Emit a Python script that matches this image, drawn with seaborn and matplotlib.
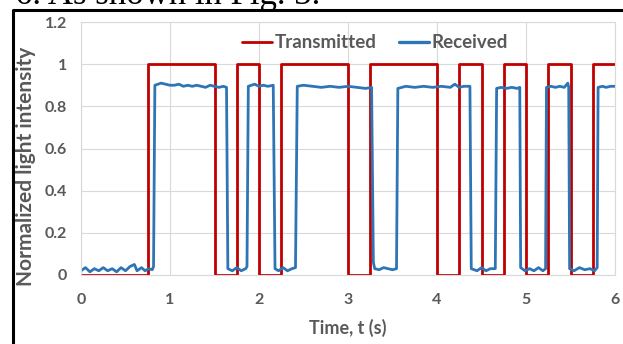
import numpy as np
import pandas as pd
import seaborn as sns
import matplotlib.pyplot as plt
from matplotlib.lines import Line2D

# transmitted signal: switching times (s) and the level after each switch
tx_edges = [0.0, 0.75, 1.5, 1.75, 2.0, 2.25, 3.0, 3.25, 4.0, 4.25, 4.5, 4.75, 5.0, 5.25, 5.5, 5.75, 6.0]
tx_levels = [0, 1, 0, 1, 0, 1, 0, 1, 0, 1, 0, 1, 0, 1, 0, 1]

# received signal
rx_time = [0.0, 0.05, 0.1, 0.15, 0.2, 0.25, 0.3, 0.35, 0.4, 0.45, 0.5, 0.55, 0.6, 0.63, 0.68, 0.72, 0.76, 0.8, 0.815,
           0.83, 0.9, 0.95, 1.0, 1.05, 1.1, 1.15, 1.2, 1.25, 1.3, 1.35, 1.4, 1.45, 1.5, 1.55, 1.6, 1.635,
           1.65, 1.7, 1.75, 1.8, 1.85, 1.865,
           1.88, 1.95, 2.0, 2.05, 2.1, 2.16,
           2.18, 2.22, 2.27, 2.32, 2.37, 2.41,
           2.43, 2.5, 2.6, 2.7, 2.8, 2.9, 3.0, 3.1, 3.2, 3.265,
           3.285, 3.3, 3.35, 3.4, 3.45, 3.5, 3.545,
           3.56, 3.65, 3.75, 3.85, 3.95, 4.05, 4.15, 4.2, 4.25, 4.3, 4.37,
           4.385, 4.45, 4.5, 4.55, 4.6, 4.655,
           4.67, 4.72, 4.78, 4.84, 4.9, 4.93,
           4.94, 4.99, 5.04, 5.09, 5.14, 5.19, 5.22,
           5.23, 5.28, 5.33, 5.38, 5.43, 5.47, 5.48,
           5.49, 5.54, 5.6, 5.66, 5.72, 5.77, 5.8,
           5.81, 5.86, 5.9, 5.95, 6.0]
rx_value = [0.02, 0.035, 0.015, 0.03, 0.02, 0.035, 0.02, 0.03, 0.015, 0.035, 0.02, 0.04, 0.05, 0.02, 0.035, 0.02, 0.03, 0.025, 0.04,
            0.90, 0.91, 0.905, 0.90, 0.90, 0.905, 0.895, 0.90, 0.895, 0.90, 0.895, 0.89, 0.90, 0.895, 0.89, 0.895, 0.89,
            0.03, 0.02, 0.035, 0.02, 0.03, 0.04,
            0.895, 0.905, 0.895, 0.90, 0.895, 0.90,
            0.03, 0.02, 0.035, 0.02, 0.03, 0.035,
            0.895, 0.90, 0.895, 0.89, 0.895, 0.89, 0.895, 0.89, 0.885, 0.89,
            0.06, 0.03, 0.025, 0.035, 0.03, 0.025, 0.03,
            0.885, 0.895, 0.89, 0.895, 0.89, 0.895, 0.89, 0.905, 0.89, 0.895, 0.895,
            0.03, 0.02, 0.035, 0.02, 0.03, 0.03,
            0.885, 0.89, 0.885, 0.89, 0.885, 0.89,
            0.035, 0.02, 0.03, 0.02, 0.035, 0.02, 0.03,
            0.89, 0.895, 0.89, 0.895, 0.89, 0.91, 0.89,
            0.03, 0.02, 0.035, 0.025, 0.03, 0.02, 0.035,
            0.89, 0.895, 0.89, 0.895, 0.895]

x_ticks = [0, 1, 2, 3, 4, 5, 6]
y_ticks = [0, 0.2, 0.4, 0.6, 0.8, 1, 1.2]
y_tick_labels = ["0", "0.2", "0.4", "0.6", "0.8", "1", "1.2"]

# step coordinates for the transmitted trace
tx_t, tx_v = [], []
for i, lev in enumerate(tx_levels):
    tx_t += [tx_edges[i], tx_edges[i + 1]]
    tx_v += [lev, lev]

df = pd.concat([
    pd.DataFrame({"t": tx_t, "v": tx_v, "signal": "Transmitted"}),
    pd.DataFrame({"t": rx_time, "v": rx_value, "signal": "Received"}),
])

sns.set_theme(style="whitegrid")
plt.rcParams["font.family"] = ["Lato", "DejaVu Sans"]

fig = plt.figure(figsize=(6.23, 3.44), dpi=100)
ax = fig.add_axes([81 / 623, 69 / 344, 534 / 623, 253 / 344])

sns.lineplot(data=df, x="t", y="v", hue="signal", estimator=None, sort=False,
             palette={"Transmitted": "#C00000", "Received": "#2E75B6"},
             linewidth=2, ax=ax)
for ln in ax.get_lines():
    if ln.get_label() == "Received":
        ln.set_linewidth(2.4)

ax.set_xlim(0, 6)
ax.set_ylim(0, 1.2)
ax.set_xticks(x_ticks)
ax.set_yticks(y_ticks)
ax.set_yticklabels(y_tick_labels)
ax.grid(True, color="#D9D9D9", linewidth=0.8)
for sp in ax.spines.values():
    sp.set_color("#D9D9D9")
    sp.set_linewidth(0.8)
ax.tick_params(axis="both", length=0, labelsize=11.5, labelcolor="#595959")
ax.tick_params(axis="x", pad=13)
ax.tick_params(axis="y", pad=10)
for lab in ax.get_xticklabels() + ax.get_yticklabels():
    lab.set_fontweight("bold")
ax.set_xlabel("")
ax.set_ylabel("")

fig.text(348 / 623, 1 - 328 / 344, "Time, t (s)", ha="center", va="center",
         fontsize=13, fontweight="bold", color="#595959")
fig.text(26 / 623, 1 - 166 / 344, "Normalized light intensity", ha="center", va="center",
         rotation=90, fontsize=15, fontweight="bold", color="#595959")

leg = ax.legend(loc="center", bbox_to_anchor=(0.55, 0.917), ncol=2, frameon=False,
                handlelength=1.6, handletextpad=0.15, columnspacing=1.2,
                prop={"weight": "bold", "size": 13.5})
for txt in leg.get_texts():
    txt.set_color("#595959")

# page border and clipped caption line above
fig.add_artist(Line2D([13.5 / 623, 13.5 / 623, 1.02], [-0.02, 1 - 10 / 344, 1 - 10 / 344],
                      transform=fig.transFigure, color="black", linewidth=2.2))
fig.text(15 / 623, 1 - 4 / 344, "6. As shown in Fig. 3.", ha="left", va="baseline",
         fontsize=25, family="Liberation Serif", color="black")

fig.savefig("out.png", dpi=100)
